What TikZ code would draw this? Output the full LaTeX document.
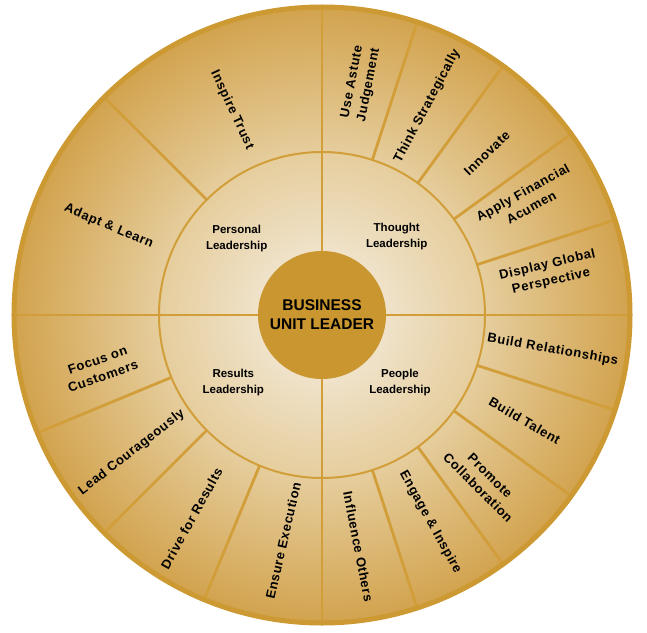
\documentclass[tikz,border=0pt]{standalone}
\usepackage{fontspec}
\setmainfont{Liberation Sans}
\newfontfamily\skillfont[LetterSpace=5]{Liberation Sans}
\usepackage{xcolor}
\usepackage{tikz}

\definecolor{wheelcream}{RGB}{245,240,230}
\definecolor{wheelmid}{RGB}{230,206,158}
\definecolor{wheeledge}{RGB}{210,163,78}
\definecolor{wheelrim}{RGB}{204,153,51}
\definecolor{wheelline}{RGB}{210,158,58}
\definecolor{hubgold}{RGB}{201,150,47}
\pgfdeclareradialshading{goldglow}{\pgfpoint{0bp}{0bp}}{%
  color(0bp)=(wheelcream); color(13bp)=(wheelmid);
  color(25bp)=(wheeledge); color(50bp)=(wheeledge)}

\begin{document}
\begin{tikzpicture}[
    x=1pt, y=1pt,
    skill/.style={
        font=\skillfont\bfseries\fontsize{13}{17}\selectfont,
        align=center,
        inner sep=0pt
    },
    area/.style={
        font=\bfseries\fontsize{11.5}{16}\selectfont,
        align=center,
        inner sep=0pt
    },
    hub/.style={
        circle,
        fill=hubgold,
        minimum size=128pt,
        align=center,
        font=\bfseries\fontsize{15.5}{19}\selectfont
    },
    divider/.style={draw=wheelline, line width=2.8pt},
    ring/.style={draw=wheelline, line width=2pt}
]
\useasboundingbox (-322,-317) rectangle (325,315);

% wheel background
\shade[shading=goldglow] (0,0) circle (308);
\draw[ring] (0,0) circle (163);

% quadrants
\draw[divider] (-308,0) -- (308,0);
\draw[divider] (0,-308) -- (0,308);

% competency sectors
\draw[divider] (18:163) -- (18:308) (36:163) -- (36:308)
    (54:163) -- (54:308) (72:163) -- (72:308);
\draw[divider] (-18:163) -- (-18:308) (-36:163) -- (-36:308)
    (-54:163) -- (-54:308) (-72:163) -- (-72:308);
\draw[divider] (202.5:163) -- (202.5:308) (225:163) -- (225:308)
    (247.5:163) -- (247.5:308);
\draw[divider] (135:163) -- (135:308);

\draw[draw=wheelrim, line width=5pt] (0,0) circle (308);

\node[hub] (bul) at (0,0) {BUSINESS\\UNIT LEADER};

\node[area] (personal) at (-85.3,76.7) {Personal\\Leadership};
\node[area] (thought) at (74.7,78.3) {Thought\\Leadership};
\node[area] (results) at (-88.7,-67.7) {Results\\Leadership};
\node[area] (people) at (78,-67.7) {People\\Leadership};

\node[skill, rotate=79] (astute) at (38.7,231.7) {Use Astute\\Judgement};
\node[skill, rotate=62] (strategic) at (105.3,209) {Think Strategically};
\node[skill, rotate=44] (innovate) at (165,161.7) {Innovate};
\node[skill, rotate=29] (acumen) at (205,115) {Apply Financial\\Acumen};
\node[skill, rotate=13] (global) at (227.3,41.7) {Display Global\\Perspective};

\node[skill, rotate=-10] (relations) at (230.7,-35) {Build Relationships};
\node[skill, rotate=-30] (talent) at (202.7,-105.7) {Build Talent};
\node[skill, rotate=-45] (collab) at (162,-166.7) {Promote\\Collaboration};
\node[skill, rotate=-61] (engage) at (108.3,-207.3) {Engage \& Inspire};
\node[skill, rotate=-79] (influence) at (36.3,-231.7) {Influence Others};

\node[skill, rotate=19] (customers) at (-221.7,-53.3) {Focus on\\Customers};
\node[skill, rotate=38] (courage) at (-190.3,-137.3) {Lead Courageously};
\node[skill, rotate=61] (drive) at (-130.3,-203.3) {Drive for Results};
\node[skill, rotate=77] (execution) at (-38.7,-225.7) {Ensure Execution};

\node[skill, rotate=-65] (trust) at (-90,205) {Inspire Trust};
\node[skill, rotate=-23] (adapt) at (-213.3,88.7) {Adapt \& Learn};

\end{tikzpicture}
\end{document}
